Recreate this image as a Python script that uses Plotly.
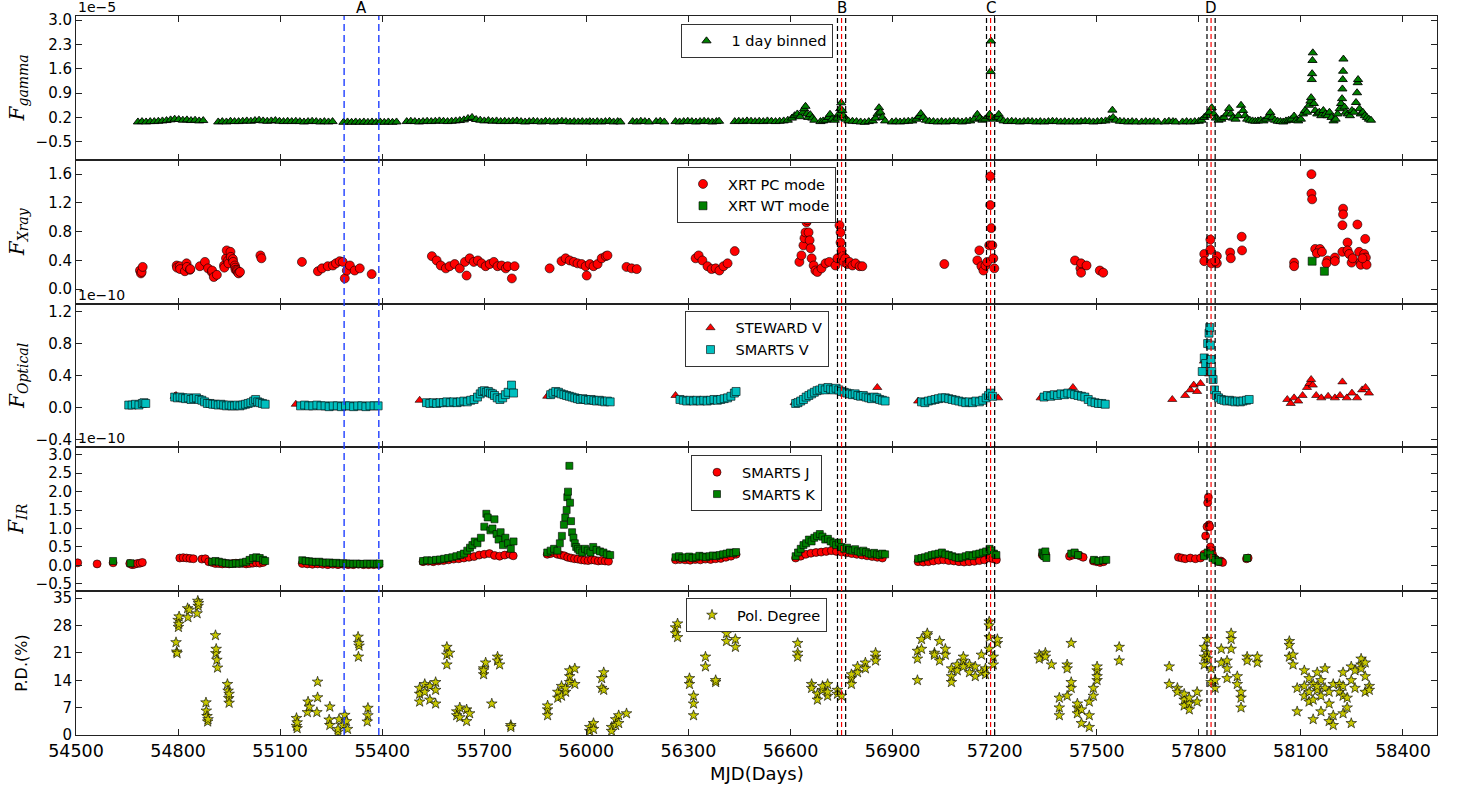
import plotly.graph_objects as go
from plotly.subplots import make_subplots

# ---------------- DATA ----------------
# Gamma-ray, 1 day binned (units of 1e-5)
gamma_mjd = [54682, 54694, 54706, 54718, 54730, 54742, 54754, 54766, 54778, 54790, 54802, 54814, 54826, 54838, 54850, 54862, 54874,
             54918, 54930, 54942, 54954, 54966, 54978, 54990, 55002, 55014, 55026, 55038, 55050, 55062, 55074, 55086, 55098, 55110, 55122, 55134, 55146, 55158, 55170, 55182, 55194, 55206, 55218, 55230, 55242, 55254,
             55286, 55298, 55310, 55322, 55334, 55346, 55358, 55370, 55382, 55394, 55406, 55418, 55430, 55442,
             55472, 55484, 55496, 55508, 55520, 55532, 55544, 55556, 55568, 55580, 55592, 55604, 55616, 55628, 55640, 55652, 55664, 55676, 55688, 55700, 55712, 55724, 55736, 55748, 55760, 55772, 55784, 55796, 55808, 55820, 55832, 55844, 55856, 55868, 55880, 55892, 55904, 55916, 55928, 55940, 55952, 55964, 55976, 55988, 56000, 56010,
             56020, 56032, 56044, 56056, 56068, 56080, 56092, 56100,
             56136, 56148, 56160, 56172, 56184,
             56205, 56217, 56229,
             56262, 56274, 56286, 56298, 56310, 56322, 56334, 56346, 56358, 56370, 56382, 56390,
             56436, 56448, 56460, 56472, 56484, 56496, 56508, 56520, 56532, 56544, 56556, 56568, 56580, 56592, 56604, 56612, 56620, 56628, 56636, 56640, 56644, 56648, 56652, 56658, 56664, 56670,
             56688, 56696, 56704, 56712, 56716, 56722, 56730, 56738, 56742, 56746, 56749, 56752, 56756, 56762, 56770, 56782, 56794, 56806, 56818, 56830, 56842, 56850, 56856, 56860, 56864, 56870, 56878,
             56898, 56910, 56922, 56934, 56946, 56958, 56970, 56978, 56983, 56990, 56998, 57008, 57020, 57032, 57044, 57056, 57068, 57080, 57092, 57104, 57116, 57128, 57140, 57149, 57156, 57164, 57172, 57180, 57185, 57188, 57189, 57192, 57198, 57206, 57212, 57218, 57226, 57238, 57250, 57262, 57274, 57286, 57298, 57310, 57322, 57334, 57346, 57358, 57370, 57382, 57394, 57406, 57418, 57430, 57442, 57454, 57466, 57478, 57490, 57502, 57514, 57526, 57538, 57546, 57548, 57556, 57568, 57580, 57592, 57604, 57616,
             57632, 57644, 57656, 57668, 57680,
             57700, 57712, 57724, 57732,
             57752, 57764, 57776, 57788, 57800, 57808, 57816, 57824, 57830, 57838, 57844, 57850, 57858, 57866, 57874, 57882, 57889, 57894, 57900, 57908, 57916, 57924, 57930, 57936, 57942, 57950, 57958, 57966, 57974, 57982, 57990, 57998, 58004, 58010, 58016, 58024, 58032, 58040, 58048, 58056, 58064, 58072, 58080, 58086, 58092, 58100, 58106, 58112, 58118, 58124, 58128, 58130, 58132, 58133, 58134, 58135, 58138, 58142, 58148, 58154, 58160, 58166, 58172, 58178, 58184, 58190, 58196, 58202, 58208, 58214, 58218, 58221, 58222, 58223, 58224, 58225, 58228, 58232, 58238, 58244, 58250, 58256, 58262, 58265, 58267, 58268, 58272, 58276, 58282, 58288, 58294, 58300, 58306]
gamma_flux = [0.07, 0.08, 0.07, 0.08, 0.08, 0.09, 0.10, 0.11, 0.13, 0.15, 0.14, 0.12, 0.13, 0.11, 0.12, 0.10, 0.11,
              0.07, 0.08, 0.07, 0.09, 0.08, 0.08, 0.09, 0.10, 0.09, 0.11, 0.12, 0.10, 0.09, 0.10, 0.11, 0.09, 0.08, 0.09, 0.08, 0.09, 0.08, 0.07, 0.08, 0.09, 0.08, 0.07, 0.08, 0.07, 0.08,
              0.06, 0.07, 0.06, 0.07, 0.06, 0.07, 0.06, 0.07, 0.06, 0.07, 0.06, 0.07, 0.06, 0.07,
              0.08, 0.09, 0.08, 0.07, 0.08, 0.09, 0.08, 0.09, 0.10, 0.09, 0.08, 0.09, 0.10, 0.11, 0.13, 0.17, 0.20, 0.14, 0.12, 0.10, 0.11, 0.09, 0.10, 0.08, 0.09, 0.08, 0.09, 0.10, 0.08, 0.07, 0.08, 0.09, 0.08, 0.07, 0.09, 0.08, 0.07, 0.08, 0.09, 0.08, 0.07, 0.08, 0.07, 0.08, 0.07, 0.08,
              0.07, 0.08, 0.07, 0.08, 0.09, 0.07, 0.08, 0.07,
              0.08, 0.07, 0.09, 0.08, 0.07,
              0.08, 0.09, 0.07,
              0.08, 0.07, 0.08, 0.09, 0.08, 0.07, 0.08, 0.09, 0.08, 0.07, 0.08, 0.09,
              0.08, 0.09, 0.08, 0.10, 0.09, 0.08, 0.09, 0.08, 0.10, 0.09, 0.08, 0.09, 0.10, 0.12, 0.18, 0.25, 0.30, 0.22, 0.35, 0.45, 0.52, 0.30, 0.20, 0.28, 0.18, 0.12,
              0.08, 0.10, 0.12, 0.20, 0.29, 0.15, 0.12, 0.18, 0.30, 0.45, 0.62, 0.40, 0.25, 0.15, 0.10, 0.09, 0.08, 0.07, 0.06, 0.08, 0.10, 0.18, 0.30, 0.48, 0.35, 0.20, 0.10,
              0.07, 0.08, 0.07, 0.08, 0.09, 0.10, 0.15, 0.22, 0.31, 0.20, 0.12, 0.09, 0.08, 0.07, 0.08, 0.07, 0.08, 0.09, 0.08, 0.07, 0.09, 0.10, 0.15, 0.29, 0.18, 0.12, 0.15, 0.22, 0.29, 1.52, 2.40, 0.20, 0.15, 0.20, 0.29, 0.15, 0.10, 0.08, 0.09, 0.08, 0.07, 0.08, 0.09, 0.08, 0.07, 0.08, 0.07, 0.08, 0.09, 0.08, 0.07, 0.08, 0.07, 0.08, 0.07, 0.08, 0.09, 0.08, 0.07, 0.08, 0.09, 0.10, 0.15, 0.41, 0.20, 0.12, 0.09, 0.08, 0.07, 0.08, 0.07,
              0.07, 0.08, 0.07, 0.08, 0.07,
              0.07, 0.09, 0.08, 0.07,
              0.07, 0.08, 0.07, 0.08, 0.09, 0.12, 0.20, 0.25, 0.35, 0.48, 0.30, 0.18, 0.12, 0.15, 0.20, 0.30, 0.46, 0.30, 0.18, 0.15, 0.25, 0.55, 0.40, 0.25, 0.15, 0.12, 0.10, 0.09, 0.10, 0.12, 0.10, 0.15, 0.22, 0.34, 0.20, 0.12, 0.09, 0.08, 0.07, 0.10, 0.12, 0.15, 0.24, 0.12, 0.10, 0.15, 0.30, 0.40, 0.35, 0.55, 0.67, 0.77, 1.29, 1.46, 1.84, 2.06, 0.60, 0.40, 0.30, 0.35, 0.25, 0.40, 0.30, 0.25, 0.35, 0.20, 0.10, 0.15, 0.30, 0.45, 0.60, 0.74, 1.02, 1.29, 1.53, 1.88, 0.50, 0.35, 0.30, 0.25, 0.40, 0.35, 0.63, 0.91, 1.20, 1.29, 0.45, 0.30, 0.35, 0.25, 0.20, 0.15, 0.12]

# X-ray (units of 1e-10)
xpc_mjd = [54688, 54691, 54693, 54696, 54796, 54797, 54805, 54806, 54820, 54825, 54826, 54835, 54836, 54864, 54879, 54888, 54899, 54900, 54905, 54914,
           54935, 54936, 54941, 54943, 54947, 54948, 54954, 54955, 54961, 54962, 54967, 54968, 54969, 54973, 54974, 54977, 54978, 54982, 55042, 55045,
           55164, 55211, 55223, 55240, 55255, 55264, 55275, 55284, 55290, 55296, 55305, 55319, 55334, 55369,
           55546, 55560, 55572, 55587, 55598, 55613, 55628, 55643, 55648, 55657, 55669, 55681, 55692, 55704, 55716, 55728, 55739, 55751, 55763, 55769, 55781, 55789,
           55892, 55927, 55939, 55951, 55963, 55974, 55986, 55998, 56001, 56010, 56021, 56033, 56045, 56057, 56062, 56118, 56133, 56148,
           56321, 56330, 56341, 56356, 56368, 56380, 56391, 56403, 56415, 56436,
           56626, 56632, 56638, 56641, 56644, 56647, 56650, 56653, 56656, 56659, 56662, 56668, 56673, 56679, 56691, 56703, 56714,
           56732, 56738, 56744, 56747, 56747, 56750, 56753, 56756, 56761, 56767, 56773, 56782, 56791, 56803, 56811,
           57052, 57149, 57155, 57161, 57167, 57173, 57178, 57184, 57187, 57187, 57190, 57193, 57196, 57199,
           57436, 57452, 57454, 57454, 57470, 57509, 57519,
           57816, 57816, 57834, 57834, 57837, 57853, 57853, 57848, 57892, 57894, 57926, 57927,
           58080, 58080, 58131, 58131, 58133, 58142, 58156, 58147, 58162, 58178, 58175, 58200, 58200, 58224, 58224, 58222, 58222, 58237, 58237, 58242, 58249, 58252, 58266, 58271, 58276, 58276, 58289, 58286, 58291, 58293, 58281]
xpc_flux = [0.26, 0.22, 0.24, 0.31, 0.33, 0.30, 0.32, 0.28, 0.25, 0.36, 0.31, 0.27, 0.28, 0.32, 0.38, 0.29, 0.24, 0.26, 0.17, 0.20,
            0.33, 0.30, 0.43, 0.54, 0.40, 0.36, 0.52, 0.45, 0.42, 0.38, 0.33, 0.30, 0.27, 0.27, 0.25, 0.23, 0.22, 0.24, 0.47, 0.43,
            0.38, 0.25, 0.29, 0.32, 0.33, 0.36, 0.39, 0.38, 0.15, 0.26, 0.33, 0.26, 0.29, 0.21,
            0.46, 0.40, 0.33, 0.29, 0.32, 0.35, 0.29, 0.38, 0.19, 0.43, 0.38, 0.40, 0.36, 0.32, 0.35, 0.38, 0.32, 0.33, 0.29, 0.32, 0.15, 0.32,
            0.29, 0.39, 0.43, 0.40, 0.38, 0.36, 0.35, 0.32, 0.19, 0.35, 0.32, 0.35, 0.43, 0.46, 0.47, 0.31, 0.29, 0.28,
            0.43, 0.47, 0.40, 0.32, 0.28, 0.29, 0.26, 0.32, 0.36, 0.53,
            0.38, 0.47, 0.61, 0.71, 0.79, 0.93, 0.96, 0.79, 0.68, 0.57, 0.43, 0.33, 0.26, 0.24, 0.29, 0.36, 0.38,
            0.33, 0.43, 0.89, 0.79, 0.65, 0.54, 0.46, 0.38, 0.43, 0.35, 0.38, 0.33, 0.36, 0.32, 0.32,
            0.35, 0.40, 0.54, 0.32, 0.26, 0.33, 0.38, 0.61, 1.57, 1.17, 0.85, 0.61, 0.43, 0.29,
            0.40, 0.29, 0.36, 0.23, 0.33, 0.26, 0.23,
            0.49, 0.39, 0.69, 0.55, 0.36, 0.46, 0.36, 0.39, 0.51, 0.43, 0.73, 0.54,
            0.37, 0.32, 1.60, 1.33, 1.25, 0.56, 0.56, 0.50, 0.52, 0.40, 0.36, 0.44, 0.39, 1.12, 1.04, 0.89, 0.52, 0.65, 0.54, 0.49, 0.37, 0.43, 0.90, 0.52, 0.38, 0.34, 0.70, 0.49, 0.44, 0.34, 0.43]
xwt_mjd = [58133, 58169]
xwt_flux = [0.39, 0.25]

# Optical (units of 1e-10)
stew_mjd = [54790, 54794, 55146, 55510, 55885, 56262, 56612, 56620, 56700, 56855, 56975, 57210, 57335, 57375, 57430, 57722,
            57760, 57775, 57785, 57795, 57805, 57815, 57825, 57830,
            58060, 58070, 58080, 58092, 58105, 58118, 58125, 58130, 58135, 58145, 58160, 58180, 58200, 58215, 58222, 58235, 58250, 58265, 58280, 58290, 58300]
stew_flux = [0.14, 0.15, 0.04, 0.09, 0.14, 0.15, 0.06, 0.07, 0.20, 0.25, 0.08, 0.12, 0.12, 0.14, 0.25, 0.10,
             0.15, 0.22, 0.28, 0.20, 0.30, 0.58, 0.48, 0.42,
             0.10, 0.05, 0.12, 0.08, 0.15, 0.25, 0.30, 0.35, 0.28, 0.15, 0.12, 0.14, 0.12, 0.15, 0.32, 0.12, 0.18, 0.12, 0.22, 0.25, 0.18]
smv_mjd = [54655, 54665, 54675, 54685, 54695, 54700, 54705,
           54790, 54798, 54806, 54814, 54822, 54830, 54838, 54846, 54854, 54862, 54870, 54878, 54886, 54894, 54902, 54910, 54918, 54926, 54934, 54942, 54950, 54958, 54966, 54974, 54982, 54990, 54998, 55006, 55014, 55022, 55028, 55034, 55040, 55048, 55056,
           55160, 55172, 55184, 55196, 55208, 55220, 55232, 55244, 55256, 55268, 55280, 55292, 55304, 55316, 55328, 55340, 55352, 55364, 55376, 55388,
           55530, 55540, 55550, 55560, 55570, 55580, 55590, 55600, 55610, 55620, 55630, 55640, 55650, 55660, 55670, 55680, 55688, 55694, 55700, 55706, 55712, 55718, 55724, 55730, 55738, 55746, 55754, 55762, 55770, 55780, 55786,
           55895, 55902, 55910, 55918, 55926, 55934, 55942, 55950, 55958, 55966, 55974, 55982, 55990, 55998, 56006, 56014, 56022, 56030, 56038, 56046, 56054, 56062, 56070,
           56275, 56285, 56295, 56305, 56315, 56325, 56335, 56345, 56355, 56365, 56375, 56385, 56395, 56405, 56415, 56425, 56435, 56440,
           56615, 56622, 56630, 56638, 56646, 56654, 56662, 56670, 56678, 56686, 56694, 56702, 56710, 56718, 56726, 56734, 56742, 56750, 56758, 56766, 56774, 56782, 56790, 56798, 56806, 56814, 56822, 56830, 56838, 56846, 56854, 56862, 56870, 56878,
           56985, 56995, 57005, 57015, 57025, 57035, 57045, 57055, 57065, 57075, 57085, 57095, 57105, 57115, 57125, 57135, 57145, 57155, 57165, 57175, 57182, 57188, 57194,
           57345, 57355, 57365, 57375, 57385, 57395, 57405, 57415, 57425, 57435, 57445, 57455, 57465, 57475, 57485, 57495, 57505, 57515, 57525,
           57810, 57816, 57820, 57826, 57830, 57832, 57834, 57836, 57838, 57842, 57846, 57852, 57858, 57866, 57874, 57882, 57890, 57898, 57906, 57914, 57922, 57930, 57940, 57948]
smv_flux = [0.03, 0.03, 0.04, 0.03, 0.05, 0.06, 0.05,
            0.13, 0.12, 0.13, 0.12, 0.11, 0.12, 0.10, 0.11, 0.12, 0.10, 0.09, 0.07, 0.05, 0.05, 0.04, 0.04, 0.03, 0.04, 0.03, 0.02, 0.03, 0.02, 0.02, 0.03, 0.02, 0.03, 0.04, 0.05, 0.06, 0.08, 0.10, 0.07, 0.06, 0.05, 0.04,
            0.02, 0.03, 0.02, 0.02, 0.03, 0.02, 0.02, 0.01, 0.02, 0.02, 0.01, 0.02, 0.02, 0.01, 0.02, 0.02, 0.01, 0.02, 0.02, 0.02,
            0.06, 0.05, 0.06, 0.05, 0.06, 0.06, 0.07, 0.06, 0.07, 0.06, 0.07, 0.08, 0.07, 0.09, 0.10, 0.13, 0.17, 0.20, 0.21, 0.19, 0.20, 0.18, 0.17, 0.15, 0.12, 0.10, 0.12, 0.16, 0.19, 0.28, 0.18,
            0.16, 0.18, 0.20, 0.19, 0.17, 0.16, 0.15, 0.14, 0.13, 0.12, 0.11, 0.10, 0.11, 0.10, 0.09, 0.10, 0.09, 0.08, 0.09, 0.08, 0.07, 0.08, 0.07,
            0.10, 0.09, 0.08, 0.09, 0.08, 0.09, 0.08, 0.09, 0.08, 0.09, 0.10, 0.09, 0.10, 0.11, 0.12, 0.14, 0.18, 0.20,
            0.05, 0.06, 0.08, 0.10, 0.13, 0.15, 0.17, 0.19, 0.21, 0.22, 0.24, 0.22, 0.25, 0.23, 0.22, 0.24, 0.22, 0.20, 0.19, 0.18, 0.17, 0.16, 0.17, 0.15, 0.14, 0.15, 0.13, 0.12, 0.11, 0.13, 0.12, 0.10, 0.09, 0.08,
            0.07, 0.06, 0.08, 0.09, 0.10, 0.11, 0.12, 0.12, 0.11, 0.10, 0.09, 0.08, 0.07, 0.06, 0.07, 0.06, 0.08, 0.07, 0.09, 0.12, 0.15, 0.18, 0.14,
            0.13, 0.15, 0.14, 0.16, 0.15, 0.17, 0.16, 0.18, 0.17, 0.16, 0.15, 0.14, 0.13, 0.10, 0.07, 0.06, 0.05, 0.05, 0.04,
            0.45, 0.62, 0.55, 0.80, 0.93, 1.00, 0.78, 0.60, 0.45, 0.35, 0.22, 0.15, 0.12, 0.10, 0.09, 0.08, 0.09, 0.08, 0.07, 0.08, 0.07, 0.08, 0.09, 0.10]

# Infrared (units of 1e-10)
smj_mjd = [54505, 54562, 54609, 54658, 54665, 54672, 54680, 54688, 54695,
           54805, 54815, 54825, 54835, 54845, 54870, 54880, 54890, 54900, 54910, 54920, 54930, 54940, 54950, 54960, 54970, 54980, 54990, 55000, 55010, 55020, 55030, 55040, 55050,
           55165, 55180, 55195, 55210, 55225, 55240, 55255, 55270, 55285, 55300, 55315, 55330, 55345, 55360, 55375, 55390,
           55520, 55535, 55550, 55565, 55580, 55595, 55610, 55625, 55640, 55655, 55670, 55685, 55700, 55715, 55730, 55745, 55760, 55775, 55785,
           55885, 55895, 55905, 55915, 55925, 55935, 55945, 55955, 55965, 55975, 55985, 55995, 56005, 56015, 56025, 56035, 56045, 56055, 56065,
           56262, 56275, 56290, 56305, 56320, 56335, 56350, 56365, 56380, 56395, 56410, 56425, 56440,
           56615, 56630, 56645, 56660, 56675, 56690, 56705, 56720, 56735, 56750, 56765, 56780, 56795, 56810, 56825, 56840, 56855, 56870,
           56975, 56990, 57005, 57020, 57035, 57050, 57065, 57080, 57095, 57110, 57125, 57140, 57155, 57170, 57185, 57195, 57205,
           57340, 57345, 57350, 57420, 57430, 57440, 57450, 57460, 57490, 57500, 57510, 57520,
           57740, 57750, 57760, 57775, 57790, 57805, 57815, 57820, 57824, 57826, 57828, 57830, 57832, 57834, 57836, 57840, 57845, 57850, 57855, 57860, 57865, 57870, 57940, 57945]
smj_flux = [0.07, 0.04, 0.07, 0.05, 0.02, 0.03, 0.05, 0.06, 0.08,
            0.20, 0.21, 0.20, 0.19, 0.18, 0.17, 0.18, 0.10, 0.08, 0.05, 0.05, 0.04, 0.05, 0.04, 0.05, 0.06, 0.05, 0.06, 0.04, 0.05, 0.06, 0.07, 0.06, 0.08,
            0.05, 0.04, 0.03, 0.04, 0.03, 0.02, 0.03, 0.02, 0.03, 0.02, 0.02, 0.03, 0.02, 0.02, 0.02, 0.02,
            0.10, 0.11, 0.10, 0.12, 0.13, 0.15, 0.17, 0.18, 0.20, 0.22, 0.24, 0.28, 0.30, 0.32, 0.27, 0.25, 0.28, 0.30, 0.26,
            0.30, 0.32, 0.35, 0.30, 0.28, 0.26, 0.22, 0.20, 0.18, 0.17, 0.15, 0.14, 0.13, 0.15, 0.14, 0.12, 0.13, 0.12, 0.11,
            0.15, 0.16, 0.15, 0.14, 0.16, 0.15, 0.17, 0.16, 0.18, 0.19, 0.22, 0.25, 0.30,
            0.20, 0.25, 0.30, 0.33, 0.35, 0.36, 0.38, 0.40, 0.38, 0.36, 0.34, 0.32, 0.30, 0.28, 0.26, 0.24, 0.22, 0.20,
            0.10, 0.09, 0.10, 0.12, 0.14, 0.15, 0.13, 0.12, 0.10, 0.09, 0.10, 0.11, 0.13, 0.15, 0.20, 0.18, 0.15,
            0.28, 0.25, 0.30, 0.25, 0.28, 0.30, 0.26, 0.22, 0.12, 0.10, 0.08, 0.10,
            0.22, 0.20, 0.18, 0.20, 0.18, 0.20, 0.30, 0.80, 1.05, 1.70, 1.85, 1.10, 1.05, 0.50, 0.40, 0.30, 0.20, 0.15, 0.12, 0.10, 0.12, 0.08, 0.18, 0.20]
smk_mjd = [54609, 54660,
           54900, 54910, 54920, 54930, 54940, 54950, 54960, 54970, 54980, 54990, 55000, 55010, 55020, 55030, 55040, 55050, 55056,
           55165, 55175, 55185, 55195, 55205, 55215, 55225, 55235, 55245, 55255, 55265, 55275, 55285, 55295, 55305, 55315, 55325, 55335, 55345, 55355, 55365, 55375, 55385, 55392,
           55520, 55532, 55545, 55558, 55570, 55582, 55594, 55606, 55618, 55630, 55640, 55650, 55658, 55665, 55672, 55680, 55690, 55700, 55706, 55710, 55718, 55724, 55730, 55736, 55742, 55748, 55755, 55762, 55770, 55778, 55786,
           55885, 55895, 55905, 55915, 55922, 55928, 55934, 55938, 55942, 55944, 55946, 55950, 55952, 55955, 55958, 55962, 55966, 55970, 55975, 55980, 55988, 55996, 56004, 56012, 56020, 56030, 56040, 56050, 56060, 56070,
           56262, 56272, 56282, 56292, 56302, 56312, 56322, 56332, 56342, 56352, 56362, 56372, 56382, 56392, 56402, 56412, 56422, 56432, 56440,
           56615, 56622, 56630, 56638, 56646, 56654, 56662, 56670, 56678, 56686, 56694, 56702, 56710, 56718, 56726, 56734, 56742, 56750, 56758, 56766, 56774, 56782, 56790, 56798, 56806, 56814, 56822, 56830, 56838, 56846, 56854, 56862, 56870, 56878,
           56975, 56985, 56995, 57005, 57015, 57025, 57035, 57045, 57055, 57065, 57075, 57085, 57095, 57105, 57115, 57125, 57135, 57145, 57155, 57165, 57175, 57185, 57190, 57198, 57205,
           57340, 57343, 57346, 57349, 57352, 57425, 57435, 57445, 57492, 57505, 57518, 57528,
           57815, 57826, 57834, 57840, 57848, 57858, 57942]
smk_flux = [0.12, 0.06,
            0.10, 0.12, 0.10, 0.08, 0.06, 0.05, 0.04, 0.06, 0.05, 0.08, 0.10, 0.15, 0.20, 0.22, 0.20, 0.15, 0.12,
            0.14, 0.12, 0.11, 0.10, 0.09, 0.10, 0.08, 0.07, 0.08, 0.06, 0.07, 0.05, 0.06, 0.05, 0.05, 0.04, 0.05, 0.04, 0.04, 0.05, 0.04, 0.05, 0.04, 0.05,
            0.12, 0.14, 0.13, 0.15, 0.16, 0.18, 0.20, 0.22, 0.25, 0.28, 0.32, 0.40, 0.48, 0.55, 0.65, 0.60, 0.75, 1.05, 1.40, 1.30, 0.95, 1.00, 1.25, 0.85, 0.70, 0.90, 0.55, 0.75, 0.60, 0.45, 0.65,
            0.35, 0.40, 0.45, 0.40, 0.60, 0.80, 1.10, 1.30, 1.50, 1.85, 2.00, 2.70, 1.70, 1.20, 0.90, 0.75, 0.60, 0.50, 0.45, 0.40, 0.35, 0.45, 0.40, 0.35, 0.50, 0.42, 0.38, 0.35, 0.30, 0.28,
            0.22, 0.25, 0.20, 0.22, 0.24, 0.20, 0.22, 0.26, 0.24, 0.22, 0.25, 0.27, 0.25, 0.28, 0.30, 0.32, 0.35, 0.33, 0.36,
            0.25, 0.35, 0.45, 0.55, 0.60, 0.70, 0.65, 0.75, 0.80, 0.85, 0.78, 0.70, 0.72, 0.65, 0.60, 0.55, 0.62, 0.50, 0.45, 0.48, 0.42, 0.40, 0.44, 0.38, 0.35, 0.40, 0.36, 0.32, 0.30, 0.34, 0.30, 0.28, 0.32, 0.30,
            0.18, 0.20, 0.22, 0.25, 0.28, 0.30, 0.32, 0.35, 0.30, 0.28, 0.25, 0.22, 0.20, 0.22, 0.25, 0.28, 0.25, 0.30, 0.32, 0.35, 0.38, 0.45, 0.40, 0.32, 0.28,
            0.35, 0.30, 0.25, 0.38, 0.20, 0.32, 0.35, 0.28, 0.15, 0.12, 0.14, 0.15,
            0.25, 0.35, 0.30, 0.20, 0.15, 0.10, 0.20]

# Polarization degree (%)
pd_mjd = [54794, 54796, 54797, 54800, 54801, 54802, 54803, 54828, 54829, 54833, 54856, 54858, 54859, 54860, 54882, 54883, 54885, 54887, 54888,
          54910, 54911, 54912, 54914, 54916, 54945, 54947, 54949, 54950, 54950,
          55148, 55148, 55150, 55150, 55182, 55180, 55186, 55210, 55210, 55208, 55246, 55244, 55246, 55270, 55273, 55270, 55285, 55290, 55295, 55298,
          55329, 55332, 55330, 55331, 55358, 55358, 55356,
          55510, 55510, 55510, 55525, 55525, 55540, 55540, 55557, 55557, 55557, 55590, 55590, 55590, 55598, 55619, 55619, 55628, 55628, 55648, 55648, 55657,
          55698, 55698, 55698, 55704, 55722, 55739, 55739, 55745, 55778, 55778,
          55886, 55886, 55886, 55916, 55916, 55927, 55927, 55939, 55939, 55951, 55951, 55951, 55966, 55966, 56010, 56010, 56021, 56021, 56045, 56045, 56051, 56051,
          56074, 56074, 56086, 56086, 56095, 56095, 56118,
          56262, 56262, 56268, 56268, 56303, 56303, 56315, 56315, 56315, 56350, 56350, 56380, 56380, 56412, 56412, 56424, 56424, 56438, 56438,
          56621, 56621, 56621, 56662, 56662, 56679, 56679, 56694, 56694, 56709, 56709, 56709, 56738, 56738, 56750, 56779, 56779, 56779, 56797, 56797, 56820, 56820, 56850, 56850, 56850,
          56973, 56973, 56973, 56985, 56985, 57002, 57002, 57023, 57023, 57038, 57038, 57055, 57055, 57073, 57073, 57073, 57090, 57090, 57108, 57108, 57108, 57126, 57126,
          57143, 57143, 57161, 57161, 57173, 57173, 57184, 57184, 57184, 57184, 57196, 57196, 57208, 57208,
          57331, 57331, 57349, 57349, 57367, 57390, 57390, 57390, 57413, 57413, 57413, 57425, 57425, 57425, 57443, 57443, 57443, 57455, 57455,
          57478, 57478, 57478, 57490, 57490, 57501, 57501, 57501, 57501, 57566, 57566,
          57713, 57713, 57737, 57737, 57757, 57757, 57757, 57772, 57772, 57772, 57795, 57795, 57816, 57816, 57816, 57825, 57825, 57825, 57836, 57836, 57848, 57848,
          57866, 57866, 57883, 57883, 57883, 57895, 57895, 57895, 57913, 57913, 57924, 57924, 57924, 57942, 57942, 57972, 57972,
          58066, 58066, 58066, 58077, 58077, 58089, 58089, 58110, 58110, 58110, 58124, 58124, 58124, 58136, 58136, 58136, 58148, 58148, 58148, 58159, 58159, 58159,
          58171, 58171, 58183, 58183, 58183, 58195, 58195, 58195, 58213, 58213, 58224, 58224, 58224, 58224, 58236, 58236, 58248, 58248, 58248, 58259, 58259,
          58277, 58277, 58277, 58289, 58289, 58289, 58301, 58301]
pd_val = [23.7, 21.3, 20.9, 29.4, 27.6, 28.4, 30.3, 32.4, 30.1, 32.0, 31.1, 34.3, 33.0, 33.7, 8.3, 6.2, 4.8, 3.4, 4.0,
          25.5, 20.9, 22.0, 19.2, 17.2, 13.0, 11.3, 9.4, 8.2, 10.5,
          4.3, 2.3, 1.7, 3.2, 8.5, 5.8, 7.2, 13.6, 9.6, 5.8, 7.2, 3.9, 2.5, 0.8, 4.0, 1.5, 2.5, 5.1, 3.5, 1.5,
          25.1, 22.8, 20.0, 23.5, 6.9, 5.0, 3.4,
          8.5, 10.5, 12.0, 13.0, 11.0, 9.0, 12.5, 13.5, 11.5, 8.0, 18.0, 20.5, 22.5, 21.0, 6.0, 5.0, 7.0, 4.5, 3.5, 6.5, 5.5,
          17.0, 15.5, 16.5, 18.5, 8.0, 20.0, 19.0, 18.0, 2.5, 2.0,
          6.5, 5.0, 7.5, 9.5, 11.0, 10.0, 12.5, 11.0, 12.0, 15.0, 16.5, 13.5, 17.0, 13.0, 1.0, 2.0, 3.0, 1.5, 12.0, 14.5, 16.0, 11.5,
          2.0, 1.0, 4.0, 2.5, 5.0, 3.0, 5.5,
          27.5, 26.0, 28.5, 25.0, 14.5, 13.0, 8.0, 5.0, 10.0, 20.0, 17.5, 13.5, 14.0, 26.0, 24.0, 28.0, 27.5, 22.5, 24.5,
          23.5, 21.0, 20.0, 13.0, 12.0, 10.5, 9.0, 11.5, 12.5, 10.0, 11.0, 13.0, 11.5, 10.5, 10.0, 14.5, 13.0, 15.5, 16.0, 17.5, 18.5, 17.0, 20.0, 19.0, 21.0,
          14.0, 19.5, 21.5, 24.5, 22.0, 25.5, 26.0, 21.0, 20.5, 24.0, 19.0, 20.5, 22.0, 15.0, 13.5, 17.0, 16.5, 18.0, 19.0, 20.0, 17.5, 18.0, 16.0,
          15.0, 17.5, 20.5, 16.0, 15.5, 17.0, 29.0, 28.0, 25.0, 22.0, 20.0, 18.0, 23.5, 24.5,
          20.5, 19.5, 21.0, 20.0, 18.0, 7.0, 9.5, 5.0, 10.0, 18.0, 17.0, 23.5, 12.0, 13.5, 7.0, 5.5, 8.0, 3.0, 6.5,
          8.5, 5.0, 2.0, 10.0, 12.0, 14.0, 16.5, 17.5, 15.0, 22.5, 19.0,
          17.5, 13.0, 12.0, 11.0, 9.0, 7.5, 10.5, 8.0, 6.5, 9.5, 11.0, 8.5, 20.0, 18.0, 22.5, 24.5, 21.0, 19.5, 17.0, 13.5, 14.0, 12.0,
          22.0, 18.5, 19.0, 17.0, 14.5, 24.5, 26.0, 22.0, 15.0, 13.0, 9.5, 7.0, 11.0, 20.0, 19.0, 18.5, 20.0,
          24.0, 23.0, 20.0, 18.0, 20.5, 12.0, 6.0, 10.0, 16.5, 12.5, 14.5, 11.0, 8.5, 13.0, 9.0, 4.0, 11.5, 12.5, 16.0, 6.0, 10.0, 14.0,
          17.0, 12.0, 3.5, 8.0, 11.0, 2.5, 5.0, 13.0, 11.0, 13.0, 16.0, 10.0, 12.5, 5.5, 7.0, 9.5, 3.0, 17.5, 14.0, 16.5, 12.0,
          18.0, 17.0, 19.5, 18.5, 15.0, 11.0, 12.5, 11.5]

# Flare windows (MJD) and labels
region_A = [55288, 55390]
flare_labels = ["A", "B", "C", "D"]
flare_centres = [55339, 56750, 57188, 57836]
flare_B = [56738, 56750, 56762]
flare_C = [57176, 57188, 57200]
flare_D = [57824, 57836, 57848]

xticks = list(range(54500, 58401, 300))

# ---------------- FIGURE ----------------
fig = make_subplots(rows=5, cols=1, shared_xaxes=True, vertical_spacing=0)

G = "#008000"; R = "#ff0000"; C = "#00bfbf"; Y = "#c8c800"
edge = dict(color="black", width=0.6)

fig.add_trace(go.Scatter(x=gamma_mjd, y=gamma_flux, mode="markers", name="1 day binned",
                         marker=dict(symbol="triangle-up", size=8, color=G, line=dict(color="black", width=0.9)),
                         error_y=dict(type="constant", value=0.03, color=R, thickness=1, width=2),
                         legend="legend", showlegend=True), row=1, col=1)
fig.add_trace(go.Scatter(x=xpc_mjd, y=xpc_flux, mode="markers", name="XRT PC mode",
                         marker=dict(symbol="circle", size=9, color=R, line=edge), legend="legend2"), row=2, col=1)
fig.add_trace(go.Scatter(x=xwt_mjd, y=xwt_flux, mode="markers", name="XRT WT mode",
                         marker=dict(symbol="square", size=8, color=G, line=edge), legend="legend2"), row=2, col=1)
fig.add_trace(go.Scatter(x=stew_mjd, y=stew_flux, mode="markers", name="STEWARD V",
                         marker=dict(symbol="triangle-up", size=8, color=R, line=edge), legend="legend3"), row=3, col=1)
fig.add_trace(go.Scatter(x=smv_mjd, y=smv_flux, mode="markers", name="SMARTS V",
                         marker=dict(symbol="square", size=8, color=C, line=edge), legend="legend3"), row=3, col=1)
fig.add_trace(go.Scatter(x=smj_mjd, y=smj_flux, mode="markers", name="SMARTS J",
                         marker=dict(symbol="circle", size=8, color=R, line=edge), legend="legend4"), row=4, col=1)
fig.add_trace(go.Scatter(x=smk_mjd, y=smk_flux, mode="markers", name="SMARTS K",
                         marker=dict(symbol="square", size=7, color=G, line=edge), legend="legend4"), row=4, col=1)
fig.add_trace(go.Scatter(x=pd_mjd, y=pd_val, mode="markers", name="Pol. Degree",
                         marker=dict(symbol="star", size=8, color=Y, line=edge),
                         error_y=dict(type="constant", value=0.6, color="#66aa66", thickness=1, width=2),
                         legend="legend5"), row=5, col=1)

yranges = [[-1.02, 3.12], [-0.2, 1.8], [-0.5, 1.3], [-0.7, 3.2], [0, 36.8]]
yticks = [[-0.5, 0.2, 0.9, 1.6, 2.3, 3.0], [0.0, 0.4, 0.8, 1.2, 1.6], [-0.4, 0.0, 0.4, 0.8, 1.2],
          [-0.5, 0.0, 0.5, 1.0, 1.5, 2.0, 2.5, 3.0], [0, 7, 14, 21, 28, 35]]

def fmt(v, dec):
    s = f"{abs(v):.{dec}f}"
    return ("\u2212" + s) if v < 0 else s

for i in range(5):
    dec = 0 if i == 4 else 1
    fig.update_yaxes(row=i + 1, col=1, range=yranges[i], tickvals=yticks[i],
                     ticktext=[fmt(v, dec) for v in yticks[i]],
                     ticks="inside", ticklen=6, tickcolor="#222", mirror="allticks",
                     showline=True, linecolor="#222", linewidth=1, showgrid=False, zeroline=False,
                     tickfont=dict(family="DejaVu Sans", size=15, color="black"))
    fig.update_xaxes(row=i + 1, col=1, range=[54500, 58500], tickvals=xticks,
                     ticktext=[str(v) for v in xticks],
                     ticks="inside", ticklen=6, tickcolor="#222", mirror="allticks",
                     showline=True, linecolor="#222", linewidth=1, showgrid=False, zeroline=False,
                     showticklabels=(i == 4),
                     tickfont=dict(family="DejaVu Sans", size=17.5, color="black"))

# Vertical flare lines
shapes = []
for xv in region_A:
    shapes.append(dict(type="line", xref="x", yref="paper", x0=xv, x1=xv, y0=0, y1=1,
                       line=dict(color="#1f3fff", width=1.4, dash="7px,4px"), layer="above"))
for grp in [flare_B, flare_C, flare_D]:
    for j, xv in enumerate(grp):
        col = R if j == 1 else "black"
        shapes.append(dict(type="line", xref="x", yref="paper", x0=xv, x1=xv, y0=0, y1=1,
                           line=dict(color=col, width=1.2, dash="5px,3px"), layer="above"))
fig.update_layout(shapes=shapes)

ann = []
for lab, xv in zip(flare_labels, flare_centres):
    ann.append(dict(x=xv, y=1.0118, xref="x", yref="paper", text=lab, showarrow=False,
                    yanchor="middle", font=dict(family="DejaVu Sans", size=15, color="black")))
ytitles = ["<i>F</i><sub><i>gamma</i></sub>", "<i>F</i><sub><i>Xray</i></sub>",
           "<i>F</i><sub><i>Optical</i></sub>", "<i>F</i><sub><i>IR</i></sub>"]
ycent = [0.9, 0.7, 0.5, 0.3]
for t, yc in zip(ytitles, ycent):
    ann.append(dict(x=-0.043, y=yc, xref="paper", yref="paper", text=t, textangle=-90, showarrow=False,
                    xanchor="center", yanchor="middle",
                    font=dict(family="DejaVu Serif", size=20, color="black")))
ann.append(dict(x=-0.040, y=0.1, xref="paper", yref="paper", text="P.D.(%)", textangle=-90, showarrow=False,
                xanchor="center", yanchor="middle", font=dict(family="DejaVu Sans", size=16, color="black")))
for txt, yv in [("1e\u22125", 1.0), ("1e\u221210", 0.6), ("1e\u221210", 0.4)]:
    ann.append(dict(x=0, y=yv, xref="paper", yref="paper", text=txt, showarrow=False,
                    xanchor="left", yanchor="bottom", yshift=-1,
                    font=dict(family="DejaVu Sans", size=14, color="black")))
ann.append(dict(x=0.5, y=-0.053, xref="paper", yref="paper", text="MJD(Days)", showarrow=False,
                xanchor="center", yanchor="middle", font=dict(family="DejaVu Sans", size=18, color="black")))
fig.update_layout(annotations=ann)

leg_common = dict(xanchor="center", x=0.5, yanchor="top", bgcolor="white", bordercolor="#333",
                  borderwidth=1, font=dict(family="DejaVu Sans", size=14.5, color="black"),
                  tracegroupgap=0, itemwidth=40)
fig.update_layout(
    width=1464, height=788,
    margin=dict(l=76, r=27, t=16, b=53, autoexpand=False),
    paper_bgcolor="white", plot_bgcolor="white",
    showlegend=True,
    legend=dict(y=0.989, **leg_common),
    legend2=dict(y=0.790, **leg_common),
    legend3=dict(y=0.590, **leg_common),
    legend4=dict(y=0.389, **leg_common),
    legend5=dict(y=0.1905, **leg_common),
)

fig.write_html("out.html", config={"displayModeBar": False},
               post_script="document.body.style.margin='0px';document.body.style.padding='0px';")
